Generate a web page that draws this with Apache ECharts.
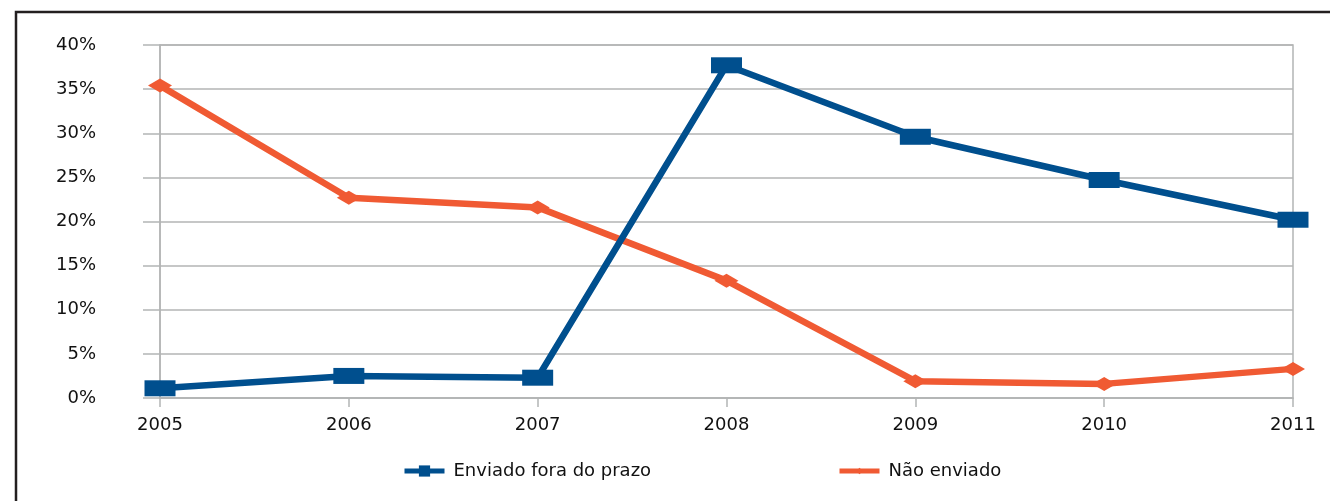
<!DOCTYPE html>
<html><head><meta charset="utf-8">
<script src="https://cdn.jsdelivr.net/npm/echarts@6/dist/echarts.min.js"></script>
<style>html,body{margin:0;padding:0;background:#fff}#c{width:1330px;height:501px}</style>
</head><body><div id="c"></div>
<script>
var categories = ['2005','2006','2007','2008','2009','2010','2011'];
var foraDoPrazo = [1.1, 2.5, 2.3, 37.7, 29.6, 24.7, 20.2];
var naoEnviado = [35.4, 22.7, 21.6, 13.3, 1.9, 1.6, 3.3];
var yTicks = [0, 5, 10, 15, 20, 25, 30, 35, 40];
var seriesNames = ['Enviado fora do prazo', 'Não enviado'];

var gridColor = '#b3b5b5';
var font = '"DejaVu Sans", sans-serif';
var legendText = {fontFamily:font, fontSize:18, color:'#111', padding:[0,0,0,4]};
var chart = echarts.init(document.getElementById('c'), null, {renderer:'canvas'});
chart.setOption({
  animation:false,
  backgroundColor:'#fff',
  graphic:[{type:'rect', shape:{x:16,y:12,width:1400,height:600}, style:{fill:'none', stroke:'#231f20', lineWidth:2.5}, z:-1}],
  grid:{left:160, right:37, top:45, bottom:103, show:true, borderColor:gridColor, borderWidth:1.5},
  legend:[
    {left:397, top:457, itemWidth:40, itemHeight:14, data:[seriesNames[0]],
     lineStyle:{width:5}, textStyle:legendText},
    {left:832, top:457, itemWidth:40, itemHeight:8, data:[seriesNames[1]],
     lineStyle:{width:5}, textStyle:legendText}
  ],
  xAxis:{type:'category', data:categories, boundaryGap:false,
    axisLine:{lineStyle:{color:gridColor, width:1.5}},
    axisTick:{show:true, length:9, lineStyle:{color:gridColor, width:1.5}},
    axisLabel:{fontFamily:font, fontSize:18, color:'#111', margin:18},
    splitLine:{show:false}},
  yAxis:{type:'value', min:yTicks[0], max:yTicks[yTicks.length-1], interval:5,
    axisLine:{show:true, lineStyle:{color:gridColor, width:1.5}},
    axisTick:{show:true, length:17, lineStyle:{color:gridColor, width:1.5}},
    axisLabel:{fontFamily:font, fontSize:18, color:'#111', margin:64, formatter:'{value}%'},
    splitLine:{show:true, lineStyle:{color:gridColor, width:1.5}}},
  series:[
    {name:seriesNames[0], type:'line', data:foraDoPrazo, symbol:'rect', symbolSize:[31,16],
     lineStyle:{width:6.5, color:'#004f8e'}, itemStyle:{color:'#004f8e'}, z:3},
    {name:seriesNames[1], type:'line', data:naoEnviado, symbol:'diamond', symbolSize:[24,14],
     lineStyle:{width:6.5, color:'#f05a33'}, itemStyle:{color:'#f05a33'}, z:2}
  ]
});
</script></body></html>
